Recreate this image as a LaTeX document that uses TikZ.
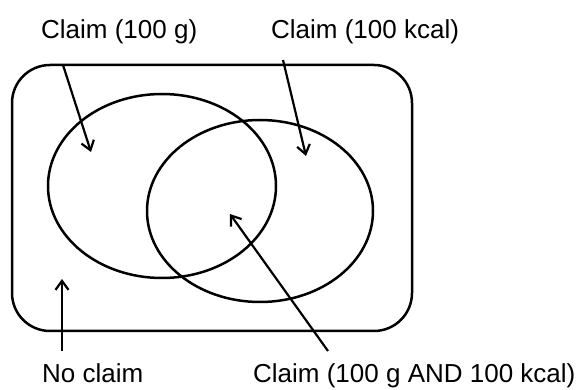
\documentclass[tikz,border=0pt]{standalone}
\usepackage{fontspec}
\setmainfont{Liberation Sans}
\usetikzlibrary{arrows.meta}
\begin{document}
\begin{tikzpicture}[x=1pt,y=-1pt,
  shapeline/.style={line width=2.5pt},
  pointer/.style={line width=2.2pt,-{Straight Barb[length=9pt,width=13pt,line width=2.2pt]}},
  label/.style={anchor=base west,inner sep=0pt,font=\fontsize{26}{30}\selectfont}]
\useasboundingbox (0,0) rectangle (582,390);
% universe box
\draw[shapeline,rounded corners=38pt] (12,65) rectangle (412,331);
% ellipses
\draw[shapeline] (162,186) ellipse [x radius=114pt, y radius=92pt];
\draw[shapeline] (260,211) ellipse [x radius=113pt, y radius=91pt];
% labels
\node[label] (g) at (41,39) {Claim (100 g)};
\node[label] (kcal) at (271,39) {Claim (100 kcal)};
\node[label] (none) at (42,383) {No claim};
\node[label] (both) at (253,383) {Claim (100 g AND 100 kcal)};
% arrow endpoints
\coordinate (gS) at (63,65);
\coordinate (gT) at (91,152);
\coordinate (kS) at (283,60);
\coordinate (kT) at (306,156);
\coordinate (nS) at (62,351);
\coordinate (nT) at (62,279);
\coordinate (bS) at (328,351);
\coordinate (bT) at (230,214);
\draw[pointer] (gS) -- (gT);
\draw[pointer] (kS) -- (kT);
\draw[pointer] (nS) -- (nT);
\draw[pointer] (bS) -- (bT);
\end{tikzpicture}
\end{document}
